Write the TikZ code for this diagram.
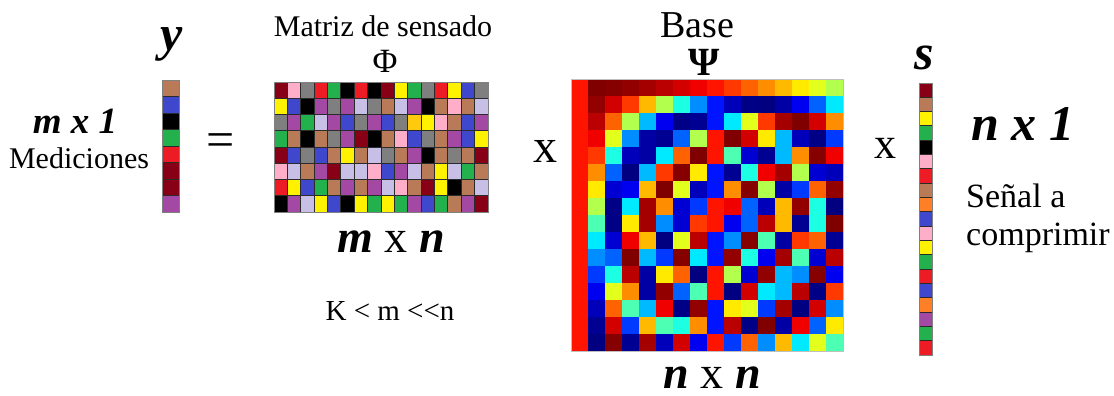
\documentclass[tikz,border=0pt]{standalone}
\usepackage{fontspec}
\setmainfont{Liberation Serif}
\usepackage{tikz}
\usetikzlibrary{calc,positioning}
\usepackage{xcolor}
\definecolor{celldarkred}{HTML}{880015}
\definecolor{cellbrown}{HTML}{B97A57}
\definecolor{cellgray}{HTML}{7F7F7F}
\definecolor{cellred}{HTML}{ED1C24}
\definecolor{cellgreen}{HTML}{22B14C}
\definecolor{cellblack}{HTML}{000000}
\definecolor{cellyellow}{HTML}{FFF200}
\definecolor{cellblue}{HTML}{3F48CC}
\definecolor{cellpurple}{HTML}{A349A4}
\definecolor{celllilac}{HTML}{C8BFE7}
\definecolor{cellpink}{HTML}{FFAEC9}
\definecolor{cellgold}{HTML}{FFC90E}
\definecolor{cellorange}{HTML}{FF7F27}
\definecolor{gridline}{HTML}{2B2B2B}

\tikzset{
  cell/.style={draw=gridline, line width=0.9pt},
  label/.style={inner sep=0pt, anchor=base},
}

\begin{document}
\begin{tikzpicture}[x=1pt, y=-1pt]

% === Wymiary ===
\useasboundingbox (0,0) rectangle (1114,396);
\fill[white] (0,0) rectangle (1114,396);

% === Wektor y ===
\foreach \c [count=\r from 0] in {brown,blue,black,green,red,darkred,darkred,purple} {
  \filldraw[cell, fill=cell\c] (162, 80+16.5*\r) rectangle ++(17,16.5);
}
\draw[gray, line width=0.8pt] (162,80) rectangle (179,212);
\node[label] (ylab) at (172,51) {%
  \fontsize{50}{50}\selectfont\bfseries\itshape y%
};
\node[label] (ydim) at (75,133) {%
  \fontsize{37}{37}\selectfont\bfseries\itshape m x 1%
};
\node[label] (ymed) at (79,168) {%
  \fontsize{30}{30}\selectfont Mediciones%
};
\node[label] (eqsign) at (221,156) {%
  \fontsize{50}{50}\selectfont =%
};

% === Matriz Phi ===
\foreach \row [count=\r from 0] in {
  {darkred,pink,gray,red,green,black,red,black,darkred,yellow,green,gray,red,yellow,blue,gray},
  {yellow,blue,black,purple,gray,purple,lilac,gray,brown,lilac,purple,black,brown,pink,brown,lilac},
  {gray,purple,green,lilac,purple,blue,gray,purple,blue,gray,gold,yellow,pink,brown,blue,purple},
  {green,brown,black,brown,gray,purple,darkred,black,brown,pink,blue,gray,brown,purple,blue,yellow},
  {darkred,blue,gray,blue,brown,yellow,brown,lilac,gray,brown,purple,black,brown,gray,brown,darkred},
  {pink,lilac,brown,purple,darkred,lilac,lilac,pink,blue,purple,lilac,brown,yellow,lilac,green,brown},
  {red,yellow,blue,green,brown,purple,brown,purple,lilac,pink,brown,darkred,yellow,black,brown,lilac},
  {black,purple,lilac,yellow,blue,black,yellow,green,yellow,green,purple,blue,green,brown,purple,darkred}} {
  \foreach \c [count=\k from 0] in \row {
    \filldraw[cell, fill=cell\c] (274+13.375*\k, 82+16.25*\r) rectangle ++(13.375,16.25);
  }
}
\draw[gray, line width=0.8pt] (274,82) rectangle (488,212);
\node[label] (phititle) at (383,37) {%
  \fontsize{30}{30}\selectfont Matriz de sensado%
};
\node[label] (philab) at (385,73) {%
  \fontsize{34}{34}\selectfont Φ%
};
\node[label] (phidim) at (391,252) {%
  \fontsize{46}{46}\selectfont\bfseries\itshape m {\normalfont x} n%
};
\node[label] (ineq) at (390,320) {%
  \fontsize{29}{29}\selectfont K < m <{}<n%
};
\node[label] (timesa) at (545,162) {%
  \fontsize{48}{48}\selectfont x%
};

% === Baza Psi (DCT, mapa jet) ===
\foreach \i in {0,...,15} {
  \foreach \k in {0,...,15} {
    \pgfmathsetmacro{\val}{\k==0 ? 0.25 : 0.353553*cos(5.625*(2*\i+1)*\k)}
    \pgfmathsetmacro{\t}{(\val+0.35185)/0.7037}
    \pgfmathsetmacro{\jr}{min(1,max(0,1.5-abs(4*\t-3)))}
    \pgfmathsetmacro{\jg}{min(1,max(0,1.5-abs(4*\t-2)))}
    \pgfmathsetmacro{\jb}{min(1,max(0,1.5-abs(4*\t-1)))}
    \definecolor{jetc}{rgb}{\jr,\jg,\jb}
    \fill[jetc] (571+17*\k, 79+17*\i) rectangle ++(17.3,17.3);
  }
}
\draw[black!25, line width=0.8pt] (571,79) rectangle (843,351);
\node[label] (basetitle) at (697,38) {%
  \fontsize{38}{38}\selectfont Base%
};
\node[label] (psilab) at (704,75) {%
  \fontsize{40}{40}\selectfont\bfseries Ψ%
};
\node[label] (psidim) at (712,388) {%
  \fontsize{46}{46}\selectfont\bfseries\itshape n {\normalfont x} n%
};
\node[label] (timesb) at (885,158) {%
  \fontsize{44}{44}\selectfont x%
};

% === Wektor s ===
\foreach \c [count=\r from 0] in {darkred,brown,yellow,green,black,pink,red,brown,orange,blue,pink,yellow,green,red,blue,orange,purple,green,red} {
  \filldraw[cell, fill=cell\c] (919, 83+14.316*\r) rectangle ++(13,14.316);
}
\draw[gray, line width=0.8pt] (919,83) rectangle (932,355);
\node[label] (slab) at (924,70) {%
  \fontsize{50}{50}\selectfont\bfseries\itshape s%
};
\node[label] (sdim) at (1023,140) {%
  \fontsize{50}{50}\selectfont\bfseries\itshape n x 1%
};
\node[label, anchor=base west] (senala) at (966,207) {%
  \fontsize{34}{34}\selectfont Señal a%
};
\node[label, anchor=base west] (senalb) at (966,245) {%
  \fontsize{34}{34}\selectfont comprimir%
};

\end{tikzpicture}
\end{document}
